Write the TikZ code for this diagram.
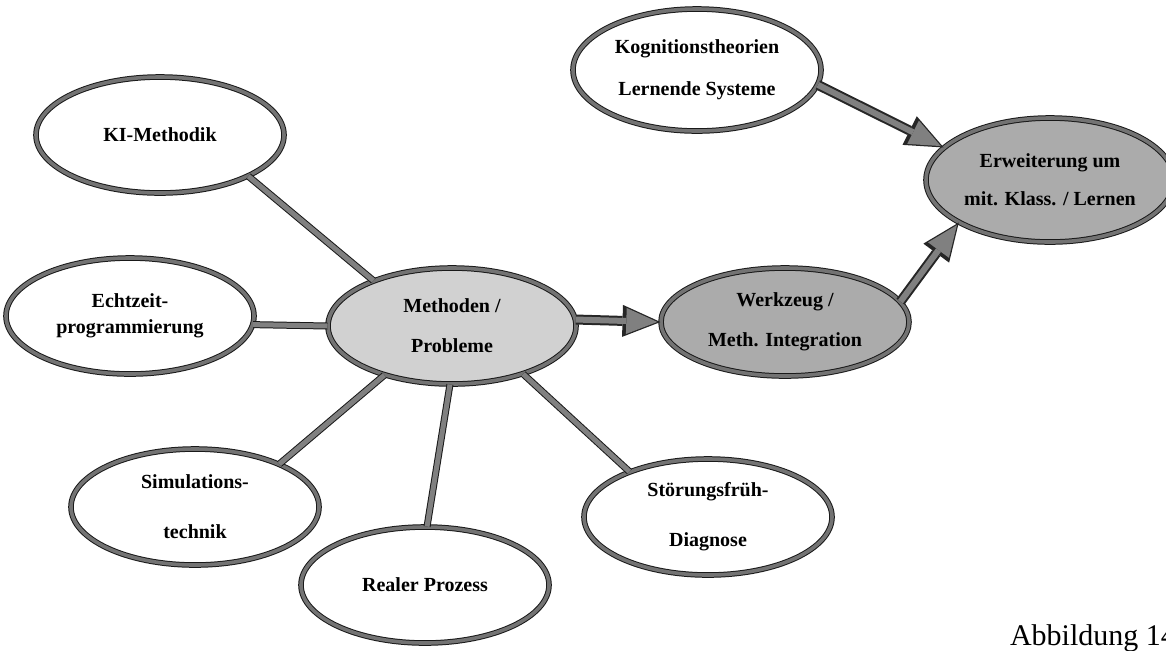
\documentclass[tikz,border=0pt]{standalone}
\usepackage{fontspec}
\setmainfont{Liberation Serif}
\usetikzlibrary{arrows.meta,shapes.geometric}
\begin{document}
\begin{tikzpicture}[x=0.5pt, y=-0.5pt,
  feld/.style={ellipse, draw=black!90, line width=0.5pt, double=black!55, double distance=1.8pt,
    fill=white, minimum width=124pt, minimum height=58pt, inner sep=0pt, align=center,
    font=\bfseries\fontsize{10}{12}\selectfont},
  verb/.style={draw=black!90, line width=0.5pt, double=black!50, double distance=2.5pt},
  pfeilaussen/.style={draw=black!85, line width=5pt, -{Triangle[length=19pt,width=16pt,line width=0pt]}},
  pfeilinnen/.style={draw=black!50, line width=3pt, -{Triangle[length=15.5pt,width=13pt,line width=0pt]}, shorten >=1.6pt}]
\useasboundingbox (0,0) rectangle (1166,650);
% Knoten
\node [feld] (ki)    at (160,135)  {KI-Methodik};
\node [feld] (echt)  at (130,316)  {Echtzeit-\\[1pt]programmierung};
\node [feld, fill=black!18] (meth) at (452,326) {Methoden /\\[8pt]Probleme};
\node [feld, fill=black!33, minimum height=54pt] (werk) at (785,322) {Werkzeug /\\[8pt]Meth. Integration};
\node [feld, minimum height=61pt] (kog) at (697,70) {Kognitionstheorien\\[9pt]Lernende Systeme};
\node [feld, fill=black!33, minimum height=62pt] (erw) at (1050,180) {Erweiterung um\\[7pt]mit. Klass. / Lernen};
\node [feld] (sim)   at (195,507)  {Simulations-\\[13pt]technik};
\node [feld] (real)  at (425,585)  {Realer Prozess};
\node [feld] (stoer) at (708,517)  {Störungsfrüh-\\[13pt]Diagnose};
\node [anchor=base west, font=\fontsize{15}{18}\selectfont] (abb) at (1003,645) {Abbildung 14};
% Verbindungen
\draw [verb] (meth.150) -- (ki.-25);
\draw [verb] (meth.west) -- (echt.-4);
\draw [verb] (meth.216) -- (sim.27);
\draw [verb] (meth.268) -- (real.88);
\draw [verb] (meth.-34) -- (stoer.150);
% Pfeile
\draw [pfeilaussen] (meth.3) -- (werk.180);
\draw [pfeilinnen]  (meth.3) -- (werk.180);
\draw [pfeilaussen] (werk.10) -- (erw.205);
\draw [pfeilinnen]  (werk.10) -- (erw.205);
\draw [pfeilaussen] (kog.-7) -- (erw.163);
\draw [pfeilinnen]  (kog.-7) -- (erw.163);
\end{tikzpicture}
\end{document}
